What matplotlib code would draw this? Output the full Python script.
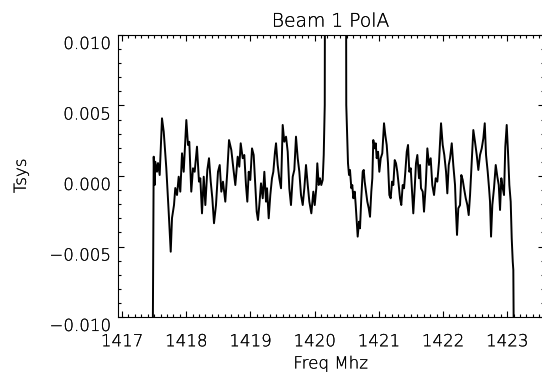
import matplotlib
matplotlib.use("Agg")
import numpy as np
import matplotlib.pyplot as plt
import matplotlib.patheffects as pe
from matplotlib.ticker import MultipleLocator, FuncFormatter
from matplotlib.transforms import ScaledTranslation

# spectrum: offset from 1417 MHz, Tsys in units of 1e-3
freq_offset = [
    0.470, 0.494, 0.509, 0.519, 0.545, 0.561, 0.587, 0.623, 0.650, 0.690,
    0.727, 0.759, 0.779, 0.810, 0.830, 0.857, 0.883, 0.908, 0.935, 0.961,
    1.002, 1.028, 1.048, 1.079, 1.106, 1.132, 1.168, 1.199, 1.220, 1.246,
    1.273, 1.298, 1.329, 1.355, 1.382, 1.407, 1.433, 1.464, 1.495, 1.522,
    1.547, 1.573, 1.609, 1.640, 1.667, 1.703, 1.734, 1.765, 1.802, 1.827,
    1.849, 1.880, 1.905, 1.931, 1.952, 1.974, 1.998, 2.025, 2.051, 2.076,
    2.098, 2.118, 2.139, 2.165, 2.192, 2.217, 2.243, 2.259, 2.285, 2.310,
    2.336, 2.357, 2.383, 2.399, 2.425, 2.450, 2.477, 2.503, 2.528, 2.555,
    2.581, 2.606, 2.632, 2.659, 2.684, 2.710, 2.737, 2.762, 2.788, 2.815,
    2.840, 2.866, 2.893, 2.918, 2.949, 2.980, 3.002, 3.026, 3.042, 3.064,
    3.084, 3.104, 3.126, 3.142, 3.158, 3.170, 3.481, 3.493, 3.509, 3.520,
    3.536, 3.551, 3.572, 3.587, 3.603, 3.625, 3.640, 3.656, 3.671, 3.692,
    3.707, 3.727, 3.749, 3.765, 3.780, 3.801, 3.821, 3.843, 3.863, 3.883,
    3.899, 3.914, 3.936, 3.952, 3.967, 3.988, 4.008, 4.030, 4.054, 4.081,
    4.101, 4.123, 4.143, 4.164, 4.185, 4.206, 4.226, 4.248, 4.268, 4.288,
    4.310, 4.330, 4.350, 4.372, 4.393, 4.413, 4.435, 4.455, 4.475, 4.497,
    4.517, 4.537, 4.559, 4.579, 4.600, 4.626, 4.642, 4.657, 4.684, 4.704,
    4.731, 4.756, 4.782, 4.808, 4.833, 4.860, 4.886, 4.911, 4.938, 4.969,
    4.995, 5.020, 5.047, 5.067, 5.089, 5.109, 5.136, 5.160, 5.187, 5.202,
    5.218, 5.238, 5.265, 5.285, 5.307, 5.327, 5.354, 5.379, 5.400, 5.421,
    5.447, 5.472, 5.498, 5.525, 5.550, 5.576, 5.603, 5.628, 5.650, 5.670,
    5.696, 5.717, 5.732, 5.748, 5.768, 5.794, 5.821, 5.846, 5.868, 5.888,
    5.908, 5.930, 5.950, 5.970, 5.992, 6.012, 6.033, 6.054, 6.070, 6.086,
    6.095, 6.114,
]
tsys_milli = [
    -20.0, 1.37, -0.64, 1.01, 0.30, 0.92, 0.07, 4.09, 3.14, 0.57,
    -2.53, -5.37, -2.98, -2.06, -0.85, -1.35, -0.05, -1.11, 1.61, 0.30,
    3.97, 2.20, 2.43, -1.11, 0.55, 0.30, 2.08, -0.40, -0.16, -2.65,
    -0.05, -2.06, 0.43, 1.26, -0.40, -1.58, -3.35, -2.06, 0.30, 0.78,
    -1.11, -0.40, -1.82, 0.30, 2.55, 1.84, 0.55, -0.64, 1.37, 0.66,
    2.32, 1.26, 1.49, -0.64, -1.82, 0.30, -0.28, 1.96, 1.49, -0.64,
    -2.53, -3.12, -2.06, -0.52, -1.58, 0.30, -1.82, -0.87, -3.00, -1.35,
    -0.16, 0.30, 1.72, 2.32, 0.78, -0.16, -0.87, 3.62, 2.43, 2.79,
    1.72, -0.87, -2.06, -0.05, 0.43, 2.79, 1.26, 0.30, -1.35, -2.06,
    -0.87, 0.78, -0.64, -1.82, -2.65, -1.11, -2.06, -0.87, 0.90, -0.64,
    -0.16, -0.64, -0.28, 1.49, 5.04, 40.0, 40.0, 5.04, 2.67, 0.90,
    0.07, 0.43, -0.87, -0.64, -1.58, -1.11, -2.06, -3.24, -4.30, -3.24,
    -3.71, -1.58, 0.30, 0.43, -0.40, -1.11, -1.82, -2.29, -2.89, -1.11,
    -0.16, 2.55, 1.96, 2.32, 1.26, 1.72, 0.30, 1.26, 1.61, 3.74,
    2.91, 2.20, 0.90, -1.35, -1.58, -0.40, -0.64, 1.13, 0.90, 0.30,
    -0.64, -1.58, -2.06, -0.64, -0.87, 0.30, 1.72, 2.20, 0.30, 0.55,
    -1.11, -2.65, -0.87, 0.90, 1.49, -0.16, 0.78, -0.87, -1.11, -2.53,
    -0.64, 1.96, 0.78, 1.26, -0.64, -1.35, -0.16, -0.40, 1.01, 3.74,
    2.20, 1.49, 0.30, -1.23, 0.78, 1.26, 2.32, 0.78, -0.64, -2.53,
    -4.18, -2.29, -2.06, 0.07, -0.28, -0.87, -1.58, -2.06, -2.77, -1.35,
    1.01, 3.26, 2.43, 1.49, 0.43, 1.49, 1.96, 2.67, 3.74, 1.49,
    0.30, -0.87, -1.82, -4.30, -2.06, -0.87, 0.78, -0.05, -0.64, -2.41,
    -0.16, -0.87, -1.35, 2.08, 3.62, 1.72, -0.64, -1.82, -4.42, -6.08,
    -6.67, -20.0,
]

freq = 1417.0 + np.array(freq_offset)
tsys = np.array(tsys_milli) * 1e-3

plt.rcParams['font.family'] = ['DejaVu Sans']
plt.rcParams['font.weight'] = 'light'
plt.rcParams['axes.titleweight'] = 'light'
plt.rcParams['axes.labelweight'] = 'light'
fig = plt.figure(figsize=(5.42, 3.76), dpi=100)
ax = fig.add_axes([117.5 / 542, 1 - 317 / 376, (543.5 - 117.5) / 542, (317 - 35) / 376])

ax.plot(freq, tsys, color='black', linewidth=1.4)

ax.set_xlim(1416.93, 1423.565)
ax.set_ylim(-0.010, 0.010)
ax.xaxis.set_major_locator(MultipleLocator(1))
ax.xaxis.set_minor_locator(MultipleLocator(0.1))
ax.yaxis.set_major_locator(MultipleLocator(0.005))
ax.yaxis.set_minor_locator(MultipleLocator(0.001))


def yfmt(v, pos):
    s = '%.3f' % abs(v)
    if v < -1e-9:
        return '\u2212' + s
    return s


ax.yaxis.set_major_formatter(FuncFormatter(yfmt))
ax.xaxis.set_major_formatter(FuncFormatter(lambda v, p: '%d' % round(v)))

ax.tick_params(which='both', direction='in', top=True, right=True,
               colors='black', labelsize=12, width=0.8)
ax.tick_params(which='major', length=4.2)
ax.tick_params(which='minor', length=2.0)
ax.tick_params(axis='x', pad=11)
ax.tick_params(axis='y', pad=5)
for sp in ax.spines.values():
    sp.set_linewidth(0.8)

# IDL-style: y labels sit a bit below their ticks
offset = ScaledTranslation(0, -7 / 100, fig.dpi_scale_trans)
for lab in ax.get_yticklabels():
    lab.set_transform(lab.get_transform() + offset)

t = ax.set_title('Beam 1 PolA', fontsize=13.5, pad=6)
xl = ax.set_xlabel('Freq Mhz', fontsize=12, labelpad=3)
yl = ax.set_ylabel('Tsys', fontsize=12, labelpad=14)

# thin hershey-like strokes, just darkened a little
stroke = [pe.withStroke(linewidth=0.1, foreground='black')]
for txt in [t, xl, yl] + ax.get_xticklabels() + ax.get_yticklabels():
    txt.set_path_effects(stroke)

fig.savefig('out.png', dpi=100)
